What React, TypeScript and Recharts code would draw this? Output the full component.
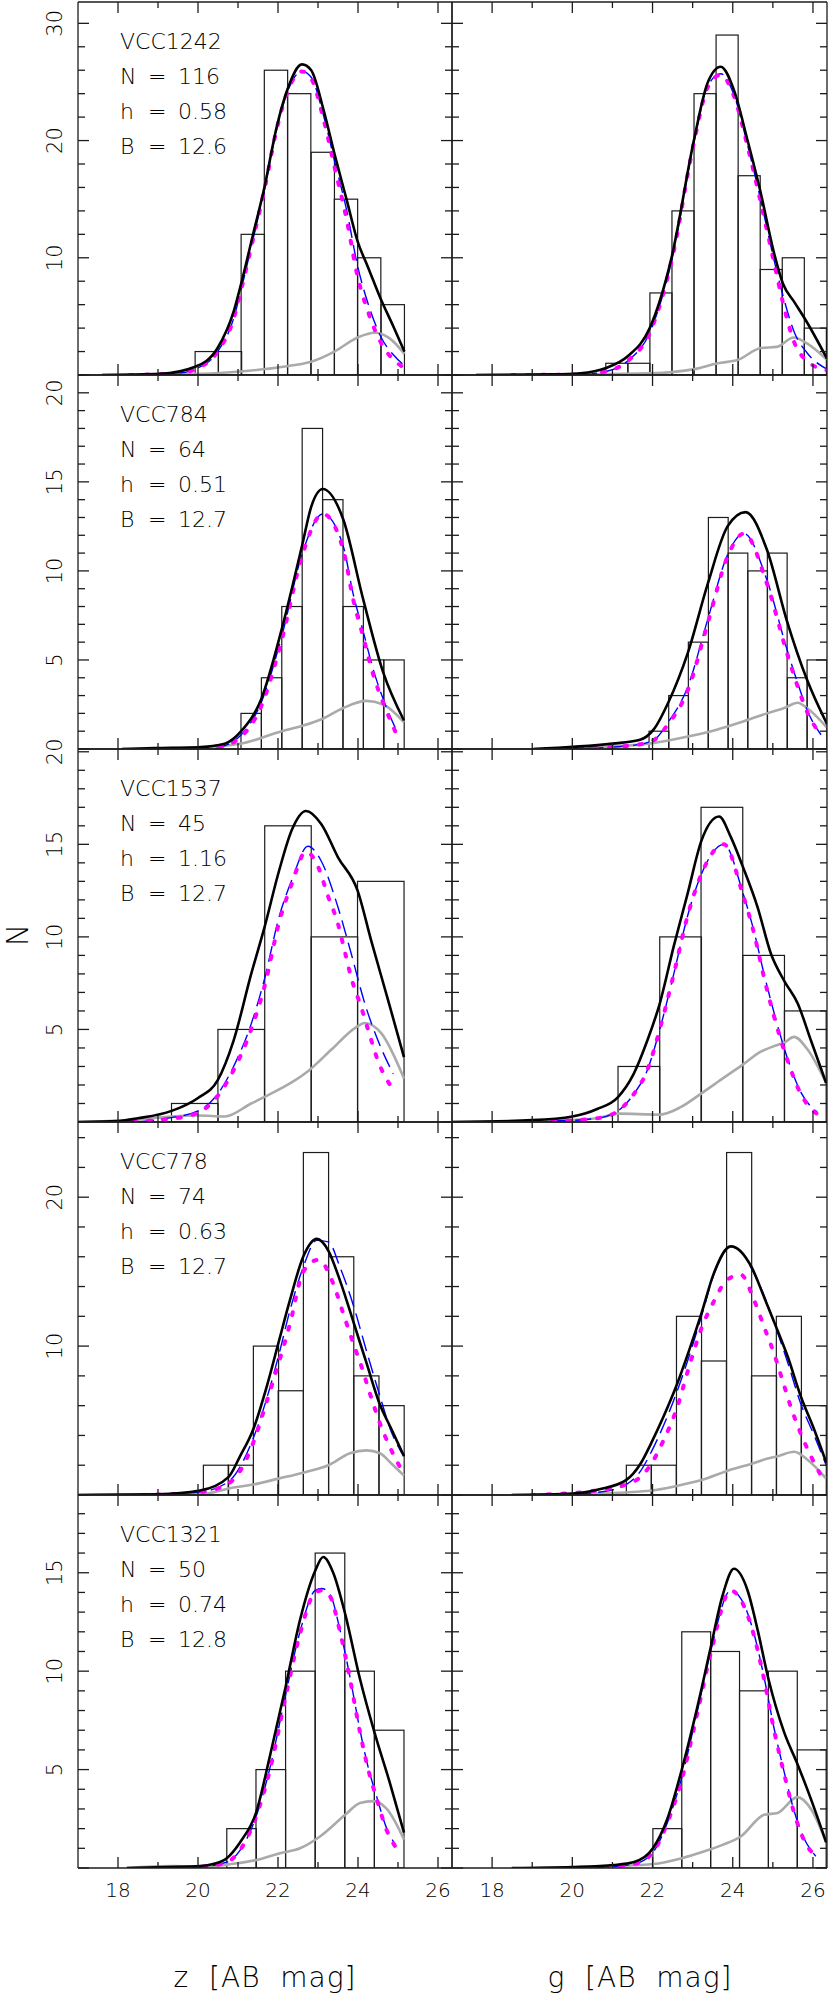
import React from 'react';
import { ComposedChart, XAxis, YAxis, Bar, Line } from 'recharts';

type Pt = [number, number];

const INK = '#1c1c1c';
const TEXT = '#000000';
const FONT = "'DejaVu Sans', 'Liberation Sans', sans-serif";

// text in the left panels
const galaxies = ['VCC1242', 'VCC784', 'VCC1537', 'VCC778', 'VCC1321'];
const nGc = ['116', '64', '45', '74', '50'];
const hBand = ['0.58', '0.51', '1.16', '0.63', '0.74'];
const bMag = ['12.6', '12.7', '12.7', '12.7', '12.8'];

// axes
const X_MIN = 17;
const X_MAX = 26.35;
const xTicks = [18, 19, 20, 21, 22, 23, 24, 25, 26];
const yMax = [31.82, 21.0, 20.15, 25.05, 18.95];
const yTicks = [
  [0, 2, 4, 6, 8, 10, 12, 14, 16, 18, 20, 22, 24, 26, 28, 30],
  [0, 1, 2, 3, 4, 5, 6, 7, 8, 9, 10, 11, 12, 13, 14, 15, 16, 17, 18, 19, 20, 21],
  [0, 1, 2, 3, 4, 5, 6, 7, 8, 9, 10, 11, 12, 13, 14, 15, 16, 17, 18, 19, 20],
  [0, 2, 4, 6, 8, 10, 12, 14, 16, 18, 20, 22, 24],
  [0, 1, 2, 3, 4, 5, 6, 7, 8, 9, 10, 11, 12, 13, 14, 15, 16, 17, 18],
];
const yMajorStep = [10, 5, 5, 10, 5];
const yLabels = [[10, 20, 30], [5, 10, 15, 20], [5, 10, 15, 20], [10, 20], [5, 10, 15]];

// ---- VCC1242 ----
const z1242Centers = [20.22, 20.8, 21.37, 21.95, 22.53, 23.12, 23.7, 24.28, 24.87];
const z1242Counts = [2, 2, 12, 26, 24, 19, 15, 10, 6];
const z1242Kde: Pt[] = [[17.6, 0], [19.05, 0.1], [19.93, 0.7], [20.49, 2.3], [20.89, 5.4], [21.08, 7.8], [21.37, 11.9], [21.66, 16.0], [21.97, 21.2], [22.24, 24.4], [22.6, 26.5], [22.83, 26.0], [23.14, 22.6], [23.41, 18.9], [23.72, 14.9], [23.99, 11.4], [24.25, 9.2], [24.58, 6.4], [24.89, 4.1], [25.16, 2.0]];
const z1242Fit: Pt[] = [[18.3, 0], [19.5, 0.15], [19.93, 0.5], [20.49, 2.0], [20.89, 4.8], [21.08, 7.3], [21.37, 11.5], [21.66, 15.8], [21.97, 21.0], [22.24, 24.2], [22.6, 25.9], [22.83, 25.3], [23.14, 21.8], [23.41, 17.8], [23.72, 13.2], [23.99, 8.4], [24.26, 5.3], [24.58, 2.7], [24.89, 1.3], [25.16, 0.6]];
const z1242Gauss: Pt[] = [[18.3, 0], [19.5, 0.15], [19.93, 0.5], [20.49, 2.0], [20.89, 4.8], [21.08, 7.3], [21.37, 11.5], [21.66, 15.8], [21.97, 21.0], [22.24, 24.2], [22.6, 25.9], [22.83, 25.4], [23.14, 22.1], [23.41, 18.3], [23.72, 14.0], [23.99, 9.3], [24.26, 6.0], [24.58, 3.2], [24.89, 1.7], [25.16, 0.8]];
const z1242Bg: Pt[] = [[17.6, 0], [19.5, 0.05], [21.07, 0.3], [22.22, 0.75], [22.8, 1.1], [23.41, 2.0], [23.99, 3.2], [24.42, 3.6], [24.8, 3.1], [25.16, 1.8]];

const g1242Centers = [21.11, 21.66, 22.21, 22.76, 23.31, 23.86, 24.41, 24.96, 25.51, 26.06];
const g1242Counts = [1, 1, 7, 14, 24, 29, 17, 9, 10, 4];
const g1242Kde: Pt[] = [[17.6, 0], [19.5, 0.05], [20.2, 0.15], [20.84, 0.6], [21.38, 1.6], [21.93, 4.0], [22.48, 10.1], [23.03, 20.0], [23.37, 24.9], [23.7, 26.3], [24.03, 24.3], [24.37, 20.0], [24.68, 15.8], [25.03, 10.4], [25.25, 7.8], [25.54, 6.2], [25.85, 4.5], [26.35, 1.4]];
const g1242Fit: Pt[] = [[18.5, 0], [20.2, 0.05], [20.84, 0.3], [21.38, 1.2], [21.93, 3.6], [22.48, 9.8], [23.03, 19.8], [23.37, 24.5], [23.7, 25.6], [24.03, 23.8], [24.37, 19.5], [24.68, 15.0], [25.03, 9.6], [25.25, 6.2], [25.52, 2.9], [25.85, 1.2], [26.35, 0.4]];
const g1242Gauss: Pt[] = [[18.5, 0], [20.2, 0.05], [20.84, 0.3], [21.38, 1.2], [21.93, 3.6], [22.48, 9.8], [23.03, 19.8], [23.37, 24.6], [23.7, 25.7], [24.03, 23.9], [24.37, 19.6], [24.68, 15.2], [25.03, 9.8], [25.25, 6.8], [25.54, 3.6], [25.85, 1.9], [26.35, 0.5]];
const g1242Bg: Pt[] = [[17.6, 0], [21.95, 0.15], [23.05, 0.5], [23.63, 1.0], [24.13, 1.3], [24.7, 2.3], [25.1, 2.4], [25.52, 3.2], [25.85, 2.7], [26.35, 1.3]];

// ---- VCC784 ----
const z784Centers = [21.33, 21.84, 22.35, 22.86, 23.37, 23.88, 24.39, 24.9];
const z784Counts = [2, 4, 8, 18, 14, 8, 5, 5];
const z784Kde: Pt[] = [[18.1, 0], [18.92, 0.05], [20.0, 0.1], [20.67, 0.3], [21.08, 1.0], [21.58, 2.8], [22.09, 6.7], [22.61, 11.5], [22.83, 13.6], [23.12, 14.6], [23.63, 12.9], [24.13, 8.4], [24.63, 4.3], [25.15, 1.6]];
const z784Fit: Pt[] = [[19.4, 0], [20.5, 0.1], [21.08, 0.7], [21.58, 2.4], [22.09, 6.1], [22.61, 10.9], [23.12, 13.2], [23.63, 11.2], [23.88, 8.4], [24.13, 6.3], [24.39, 4.1], [24.63, 2.6], [24.93, 1.0]];
const z784Gauss: Pt[] = [[20.4, 0], [21.08, 0.8], [21.58, 2.6], [22.09, 6.3], [22.61, 11.0], [23.12, 13.2], [23.63, 11.4], [23.88, 8.7], [24.13, 6.6], [24.39, 4.4], [24.63, 2.8], [24.93, 1.2]];
const z784Bg: Pt[] = [[18.1, 0], [20.0, 0.1], [21.07, 0.3], [22.09, 1.0], [22.61, 1.3], [23.12, 1.7], [23.63, 2.3], [24.2, 2.7], [24.63, 2.5], [25.15, 1.5]];

const g784Centers = [22.16, 22.65, 23.14, 23.64, 24.13, 24.62, 25.11, 25.61, 26.1];
const g784Counts = [1, 3, 6, 13, 11, 10, 11, 4, 5];
const g784Kde: Pt[] = [[19.03, 0], [21.0, 0.3], [21.67, 0.5], [22.03, 1.1], [22.39, 2.6], [22.88, 5.4], [23.38, 9.3], [23.87, 12.5], [24.32, 13.3], [24.85, 11.2], [25.35, 7.2], [25.85, 3.9], [26.35, 1.4]];
const g784Fit: Pt[] = [[19.8, 0], [21.5, 0.2], [22.03, 0.5], [22.39, 1.4], [22.88, 3.3], [23.38, 7.1], [23.87, 10.8], [24.28, 12.1], [24.85, 9.3], [25.35, 5.4], [25.62, 3.5], [25.87, 2.0], [26.2, 0.8]];
const g784Gauss: Pt[] = [[19.8, 0], [21.5, 0.2], [22.03, 0.5], [22.39, 1.5], [22.88, 3.5], [23.38, 7.3], [23.87, 10.9], [24.28, 12.1], [24.85, 9.5], [25.35, 5.6], [25.62, 3.7], [25.87, 2.1], [26.2, 0.8]];
const g784Bg: Pt[] = [[19.03, 0], [21.0, 0.15], [21.91, 0.3], [22.88, 0.7], [23.62, 1.1], [24.2, 1.5], [24.85, 2.0], [25.28, 2.3], [25.62, 2.6], [25.85, 2.3], [26.35, 1.2]];

// ---- VCC1537 ----
const z1537Centers = [19.92, 21.08, 22.25, 23.41, 24.57];
const z1537Counts = [1, 5, 16, 10, 13];
const z1537Kde: Pt[] = [[17.0, 0], [18.0, 0.05], [18.5, 0.2], [19.34, 0.6], [20.0, 1.3], [20.49, 2.25], [20.89, 4.4], [21.33, 8.0], [21.66, 10.5], [22.03, 13.6], [22.35, 15.8], [22.7, 16.8], [23.08, 16.1], [23.5, 14.3], [23.99, 12.5], [24.33, 9.8], [24.75, 6.6], [25.15, 3.5]];
const z1537Fit: Pt[] = [[18.0, 0], [19.22, 0.15], [20.0, 0.5], [20.49, 1.4], [20.89, 2.8], [21.33, 5.0], [21.66, 7.3], [22.03, 10.8], [22.35, 12.9], [22.7, 14.6], [23.0, 13.8], [23.25, 12.2], [23.5, 10.7], [23.66, 9.3], [23.83, 7.8], [24.08, 6.2], [24.25, 5.0], [24.5, 3.3], [24.83, 1.9]];
const z1537Gauss: Pt[] = [[18.5, 0], [19.22, 0.2], [20.0, 0.6], [20.49, 1.5], [20.89, 3.0], [21.33, 5.3], [21.66, 7.7], [22.03, 11.1], [22.35, 13.1], [22.75, 14.9], [23.08, 14.1], [23.5, 11.6], [23.83, 9.1], [24.17, 6.4], [24.5, 4.4], [24.88, 2.6]];
const z1537Bg: Pt[] = [[17.0, 0], [18.3, 0.1], [19.34, 0.3], [20.0, 0.35], [20.67, 0.3], [21.33, 1.0], [21.75, 1.45], [22.35, 2.15], [22.78, 2.8], [23.33, 3.9], [23.94, 5.1], [24.17, 5.35], [24.58, 4.8], [25.15, 2.35]];

const g1537Centers = [21.66, 22.7, 23.73, 24.77, 25.81];
const g1537Counts = [3, 10, 17, 9, 6];
const g1537Kde: Pt[] = [[17.0, 0], [19.0, 0.1], [20.0, 0.3], [20.62, 0.7], [21.14, 1.35], [21.53, 2.6], [21.87, 4.4], [22.18, 6.4], [22.53, 9.5], [22.87, 12.3], [23.22, 15.2], [23.66, 16.5], [23.95, 15.4], [24.25, 13.8], [24.62, 11.6], [24.95, 9.1], [25.29, 7.6], [25.62, 6.4], [25.95, 4.4], [26.33, 2.1]];
const g1537Fit: Pt[] = [[19.5, 0.05], [20.62, 0.2], [21.14, 0.6], [21.53, 1.5], [21.87, 2.8], [22.18, 5.0], [22.53, 8.0], [22.87, 11.1], [23.22, 13.4], [23.78, 15.0], [24.25, 12.3], [24.53, 10.2], [24.78, 7.8], [25.03, 5.7], [25.37, 3.3], [25.7, 1.5], [26.12, 0.4]];
const g1537Gauss: Pt[] = [[19.5, 0.05], [20.62, 0.2], [21.14, 0.6], [21.53, 1.5], [21.87, 2.8], [22.18, 5.0], [22.53, 8.0], [22.87, 11.1], [23.22, 13.4], [23.78, 15.0], [24.25, 12.4], [24.53, 10.3], [24.78, 8.0], [25.03, 5.9], [25.37, 3.4], [25.7, 1.6], [26.12, 0.5]];
const g1537Bg: Pt[] = [[17.0, 0], [19.2, 0.05], [20.62, 0.2], [21.14, 0.45], [22.18, 0.4], [22.7, 0.8], [23.22, 1.55], [23.78, 2.4], [24.25, 3.1], [24.7, 3.8], [25.03, 4.1], [25.29, 4.3], [25.53, 4.6], [25.87, 3.9], [26.33, 2.1]];

// ---- VCC778 ----
const z778Centers = [20.45, 21.07, 21.7, 22.32, 22.95, 23.58, 24.21, 24.84];
const z778Counts = [2, 2, 10, 7, 23, 16, 8, 6];
const z778Kde: Pt[] = [[17.0, 0], [19.0, 0.05], [20.05, 0.3], [20.76, 1.2], [21.05, 2.6], [21.38, 4.4], [21.72, 7.3], [22.01, 10.2], [22.3, 13.1], [22.63, 16.0], [22.97, 17.2], [23.26, 16.4], [23.55, 14.4], [23.9, 11.5], [24.22, 8.8], [24.53, 6.2], [24.84, 4.4], [25.15, 2.6]];
const z778Fit: Pt[] = [[18.6, 0], [20.05, 0.2], [20.72, 0.7], [21.05, 1.6], [21.38, 3.5], [21.72, 6.3], [22.01, 8.8], [22.3, 11.5], [22.63, 15.0], [23.01, 15.8], [23.38, 14.2], [23.63, 12.2], [23.88, 10.2], [24.09, 8.6], [24.3, 6.8], [24.55, 4.8], [24.8, 3.2], [25.13, 1.5]];
const z778Gauss: Pt[] = [[18.6, 0], [20.05, 0.2], [20.76, 0.9], [21.38, 3.8], [21.72, 6.5], [22.01, 9.3], [22.3, 12.4], [22.63, 15.3], [22.97, 17.1], [23.26, 17.0], [23.55, 15.3], [23.9, 12.6], [24.22, 9.6], [24.53, 6.8], [24.84, 4.2], [25.1, 2.8]];
const z778Bg: Pt[] = [[17.0, 0], [20.05, 0.05], [20.89, 0.5], [21.38, 0.7], [22.01, 1.1], [22.63, 1.5], [23.26, 2.0], [23.8, 2.8], [24.22, 3.0], [24.55, 2.8], [24.84, 2.1], [25.15, 1.3]];

const g778Centers = [21.66, 22.28, 22.91, 23.53, 24.16, 24.78, 25.4, 26.02];
const g778Counts = [2, 2, 12, 9, 23, 8, 12, 6];
const g778Kde: Pt[] = [[18.49, 0], [20.0, 0.1], [20.7, 0.4], [21.34, 1.0], [21.7, 2.1], [21.97, 3.5], [22.28, 5.3], [22.59, 7.3], [22.91, 9.7], [23.22, 12.2], [23.53, 14.9], [23.95, 16.7], [24.47, 15.3], [24.78, 13.3], [25.08, 11.3], [25.37, 9.3], [25.7, 6.6], [26.03, 4.4], [26.33, 2.2]];
const g778Fit: Pt[] = [[19.0, 0], [20.6, 0.3], [21.53, 0.9], [21.97, 2.1], [22.28, 3.7], [22.59, 5.7], [22.91, 8.6], [23.22, 11.2], [23.53, 13.0], [23.84, 14.4], [24.2, 14.8], [24.53, 13.1], [24.78, 11.3], [25.03, 9.5], [25.24, 7.7], [25.45, 5.9], [25.7, 4.1], [25.95, 2.6], [26.2, 1.3]];
const g778Gauss: Pt[] = [[19.5, 0], [20.7, 0.2], [21.34, 0.7], [21.7, 1.6], [21.97, 2.9], [22.28, 4.7], [22.59, 6.8], [22.91, 9.3], [23.22, 12.0], [23.53, 14.8], [23.95, 16.7], [24.2, 16.4], [24.47, 15.2], [24.78, 13.4], [25.08, 11.2], [25.37, 8.9], [25.7, 6.1], [26.03, 4.0], [26.33, 2.0]];
const g778Bg: Pt[] = [[18.49, 0], [20.7, 0.1], [21.97, 0.3], [22.59, 0.6], [23.22, 1.0], [23.84, 1.6], [24.47, 2.1], [24.87, 2.45], [25.12, 2.6], [25.53, 2.9], [25.87, 2.35], [26.33, 1.1]];

// ---- VCC1321 ----
const z1321Centers = [21.09, 21.82, 22.56, 23.3, 24.04, 24.78];
const z1321Counts = [2, 5, 10, 16, 10, 7];
const z1321Kde: Pt[] = [[18.22, 0], [19.22, 0.05], [20.05, 0.1], [20.38, 0.2], [20.72, 0.5], [21.05, 1.3], [21.45, 2.8], [21.8, 5.7], [22.19, 9.2], [22.55, 12.6], [22.93, 15.1], [23.13, 15.8], [23.38, 15.0], [23.68, 12.9], [24.05, 9.6], [24.41, 6.9], [24.8, 4.3], [25.15, 1.8]];
const z1321Fit: Pt[] = [[19.38, 0], [20.05, 0.05], [20.72, 0.3], [21.05, 0.9], [21.45, 2.6], [21.8, 5.0], [22.19, 8.7], [22.55, 11.9], [22.93, 14.0], [23.09, 14.1], [23.3, 13.8], [23.55, 12.0], [23.8, 9.6], [24.05, 6.9], [24.22, 5.3], [24.47, 3.5], [24.72, 1.9], [24.93, 1.1]];
const z1321Gauss: Pt[] = [[19.8, 0], [20.72, 0.3], [21.05, 0.9], [21.45, 2.6], [21.8, 5.1], [22.19, 8.8], [22.55, 12.0], [22.93, 14.1], [23.09, 14.2], [23.3, 13.9], [23.55, 12.1], [23.8, 9.7], [24.05, 7.0], [24.22, 5.4], [24.47, 3.6], [24.72, 2.0], [24.93, 1.2]];
const z1321Bg: Pt[] = [[18.22, 0], [19.38, 0.1], [20.05, 0.05], [20.83, 0.2], [21.45, 0.4], [22.05, 0.75], [22.55, 1.0], [23.05, 1.6], [23.68, 2.7], [24.05, 3.3], [24.38, 3.4], [24.72, 3.0], [25.15, 1.45]];

const g1321Centers = [22.37, 23.09, 23.81, 24.53, 25.25, 25.97];
const g1321Counts = [2, 12, 11, 9, 10, 6];
const g1321Kde: Pt[] = [[18.49, 0], [20.0, 0.05], [21.04, 0.15], [21.54, 0.3], [22.01, 1.0], [22.37, 2.5], [22.73, 5.0], [23.12, 8.2], [23.45, 11.2], [23.74, 13.8], [24.03, 15.2], [24.37, 14.1], [24.62, 12.1], [24.89, 9.6], [25.28, 6.9], [25.61, 5.3], [25.95, 3.5], [26.33, 1.3]];
const g1321Fit: Pt[] = [[20.45, 0], [21.54, 0.2], [22.01, 0.8], [22.37, 2.3], [22.73, 4.5], [23.12, 7.9], [23.45, 10.9], [23.95, 14.1], [24.28, 13.3], [24.53, 11.8], [24.78, 9.6], [25.03, 7.0], [25.28, 4.8], [25.53, 2.8], [25.78, 1.4], [26.07, 0.6]];
const g1321Gauss: Pt[] = [[20.45, 0], [21.54, 0.2], [22.01, 0.8], [22.37, 2.3], [22.73, 4.6], [23.12, 8.0], [23.45, 11.0], [23.95, 14.1], [24.28, 13.4], [24.53, 11.9], [24.78, 9.7], [25.03, 7.1], [25.28, 4.9], [25.53, 2.9], [25.78, 1.5], [26.07, 0.6]];
const g1321Bg: Pt[] = [[19.12, 0], [21.04, 0.1], [22.01, 0.2], [22.73, 0.5], [23.37, 0.9], [23.78, 1.2], [24.2, 1.6], [24.78, 2.7], [25.12, 2.8], [25.61, 3.6], [25.95, 3.0], [26.33, 1.3]];

type PanelSpec = {
  row: number;
  col: number;
  centers: number[];
  counts: number[];
  binWidth: number;
  kde: Pt[];
  fit: Pt[];
  gauss: Pt[];
  bg: Pt[];
};

const panels: PanelSpec[] = [
  { row: 0, col: 0, centers: z1242Centers, counts: z1242Counts, binWidth: 0.583, kde: z1242Kde, fit: z1242Fit, gauss: z1242Gauss, bg: z1242Bg },
  { row: 0, col: 1, centers: g1242Centers, counts: g1242Counts, binWidth: 0.55, kde: g1242Kde, fit: g1242Fit, gauss: g1242Gauss, bg: g1242Bg },
  { row: 1, col: 0, centers: z784Centers, counts: z784Counts, binWidth: 0.51, kde: z784Kde, fit: z784Fit, gauss: z784Gauss, bg: z784Bg },
  { row: 1, col: 1, centers: g784Centers, counts: g784Counts, binWidth: 0.493, kde: g784Kde, fit: g784Fit, gauss: g784Gauss, bg: g784Bg },
  { row: 2, col: 0, centers: z1537Centers, counts: z1537Counts, binWidth: 1.163, kde: z1537Kde, fit: z1537Fit, gauss: z1537Gauss, bg: z1537Bg },
  { row: 2, col: 1, centers: g1537Centers, counts: g1537Counts, binWidth: 1.04, kde: g1537Kde, fit: g1537Fit, gauss: g1537Gauss, bg: g1537Bg },
  { row: 3, col: 0, centers: z778Centers, counts: z778Counts, binWidth: 0.63, kde: z778Kde, fit: z778Fit, gauss: z778Gauss, bg: z778Bg },
  { row: 3, col: 1, centers: g778Centers, counts: g778Counts, binWidth: 0.625, kde: g778Kde, fit: g778Fit, gauss: g778Gauss, bg: g778Bg },
  { row: 4, col: 0, centers: z1321Centers, counts: z1321Counts, binWidth: 0.74, kde: z1321Kde, fit: z1321Fit, gauss: z1321Gauss, bg: z1321Bg },
  { row: 4, col: 1, centers: g1321Centers, counts: g1321Counts, binWidth: 0.72, kde: g1321Kde, fit: g1321Fit, gauss: g1321Gauss, bg: g1321Bg },
];

// layout of the grid
const ROW_TOP = [2, 375, 749, 1122, 1495];
const ROW_BOTTOM = [375, 749, 1122, 1495, 1868];

const toRows = (pts: Pt[]) => pts.map(([x, y]) => ({ x, y }));

const xTick = (side: 'top' | 'bottom', labels: boolean) => (p: any) => {
  const v = p.payload.value;
  const major = v % 2 === 0;
  const len = major ? 11 : 6;
  const dir = side === 'bottom' ? -1 : 1;
  return (
    <g>
      <line x1={p.x} x2={p.x} y1={p.y} y2={p.y + dir * len} stroke={INK} strokeWidth={1.3} />
      {labels && major ? (
        <text x={p.x} y={p.y + 22} textAnchor="middle" dominantBaseline="central" fontSize={20} fontFamily={FONT} fontWeight={200} fill={TEXT}>
          {v}
        </text>
      ) : null}
    </g>
  );
};

const yTick = (side: 'left' | 'right', step: number, labels: number[]) => (p: any) => {
  const v = p.payload.value;
  const major = v % step === 0;
  const len = major ? 11 : 7;
  const dir = side === 'left' ? 1 : -1;
  const tx = p.x - 23;
  return (
    <g>
      <line x1={p.x} x2={p.x + dir * len} y1={p.y} y2={p.y} stroke={INK} strokeWidth={1.3} />
      {labels.includes(v) ? (
        <text x={tx} y={p.y} transform={`rotate(-90 ${tx} ${p.y})`} textAnchor="middle" dominantBaseline="central" fontSize={21} fontFamily={FONT} fontWeight={200} fill={TEXT}>
          {v}
        </text>
      ) : null}
    </g>
  );
};

function Panel({ p }: { p: PanelSpec }) {
  const top = ROW_TOP[p.row];
  const plotH = ROW_BOTTOM[p.row] - top;
  const last = p.row === 4;
  const left = p.col === 0;
  const width = left ? 462 : 388;
  const mL = left ? 78 : 10;
  const mR = left ? 10 : 3;
  const pxPerMag = (width - mL - mR) / (X_MAX - X_MIN);
  const extra = last ? 45 : 0;
  const bins = p.centers.map((x, i) => ({ x, n: p.counts[i] }));
  const axisLine = { stroke: INK, strokeWidth: 1.3 };

  const histShape = (s: any) => {
    const c = s.x + s.width / 2;
    const w = p.binWidth * pxPerMag;
    return <rect x={c - w / 2} y={s.y} width={w} height={s.height} fill="none" stroke={INK} strokeWidth={1.2} />;
  };

  // every axis takes 1px of room, so the margins give that pixel back
  return (
    <div style={{ position: 'absolute', left: left ? 0 : 442, top: top - 10 }}>
      <ComposedChart
        width={width}
        height={plotH + 20 + extra}
        data={bins}
        margin={{ top: 9, right: mR - 1, bottom: 9 + extra, left: mL - 1 }}
        barCategoryGap={0}
        barGap={0}
      >
        <XAxis dataKey="x" type="number" domain={[X_MIN, X_MAX]} allowDataOverflow ticks={xTicks} interval={0} height={1} tickSize={0} tickMargin={0} tickLine={false} axisLine={axisLine} tick={xTick('bottom', last)} />
        <XAxis xAxisId="top" orientation="top" dataKey="x" type="number" domain={[X_MIN, X_MAX]} allowDataOverflow ticks={xTicks} interval={0} height={1} tickSize={0} tickMargin={0} tickLine={false} axisLine={axisLine} tick={xTick('top', false)} />
        <YAxis type="number" domain={[0, yMax[p.row]]} allowDataOverflow ticks={yTicks[p.row]} interval={0} width={1} tickSize={0} tickMargin={0} tickLine={false} axisLine={axisLine} tick={yTick('left', yMajorStep[p.row], left ? yLabels[p.row] : [])} />
        <YAxis yAxisId="right" orientation="right" type="number" domain={[0, yMax[p.row]]} allowDataOverflow ticks={yTicks[p.row]} interval={0} width={1} tickSize={0} tickMargin={0} tickLine={false} axisLine={axisLine} tick={yTick('right', yMajorStep[p.row], [])} />
        <Bar dataKey="n" barSize={Math.round(p.binWidth * pxPerMag)} shape={histShape} isAnimationActive={false} />
        <Line data={toRows(p.bg)} dataKey="y" type="monotone" stroke="#aaaaaa" strokeWidth={2.6} dot={false} activeDot={false} isAnimationActive={false} />
        <Line data={toRows(p.gauss)} dataKey="y" type="monotone" stroke="#0000ff" strokeWidth={1.4} strokeDasharray="16 7" dot={false} activeDot={false} isAnimationActive={false} />
        <Line data={toRows(p.fit)} dataKey="y" type="monotone" stroke="#ff00ff" strokeWidth={4} strokeDasharray="3 12" strokeLinecap="round" dot={false} activeDot={false} isAnimationActive={false} />
        <Line data={toRows(p.kde)} dataKey="y" type="monotone" stroke="#000000" strokeWidth={2.6} dot={false} activeDot={false} isAnimationActive={false} />
      </ComposedChart>
    </div>
  );
}

const cell: React.CSSProperties = { display: 'inline-block' };

function Info({ row }: { row: number }) {
  const lines: [string, string][] = [
    ['N', nGc[row]],
    ['h', hBand[row]],
    ['B', bMag[row]],
  ];
  return (
    <div style={{ position: 'absolute', left: 120, top: ROW_TOP[row] + 22, fontFamily: FONT, fontWeight: 200, fontSize: 22, lineHeight: '35px', color: TEXT, whiteSpace: 'pre' }}>
      <div>{galaxies[row]}</div>
      {lines.map(([k, v]) => (
        <div key={k}>
          <span style={{ ...cell, width: 28 }}>{k}</span>
          <span style={{ ...cell, width: 30 }}>=</span>
          <span style={cell}>{v}</span>
        </div>
      ))}
    </div>
  );
}

export default function App() {
  return (
    <div style={{ position: 'absolute', left: 0, top: 0, width: 830, height: 1997, background: '#fff', overflow: 'hidden' }}>
      {panels.map((p) => (
        <Panel key={`${p.row}-${p.col}`} p={p} />
      ))}
      {galaxies.map((g, i) => (
        <Info key={g} row={i} />
      ))}
      <svg style={{ position: 'absolute', left: 0, top: 900 }} width={40} height={70}>
        <text x={17} y={35} transform="rotate(-90 17 35)" textAnchor="middle" dominantBaseline="central" fontSize={30} fontFamily={FONT} fontWeight={200} fill={TEXT}>
          N
        </text>
      </svg>
      <div style={{ position: 'absolute', left: 265, top: 1977, transform: 'translate(-50%, -50%)', fontFamily: FONT, fontWeight: 200, fontSize: 28, color: TEXT, whiteSpace: 'pre', letterSpacing: 1 }}>z  [AB  mag]</div>
      <div style={{ position: 'absolute', left: 640, top: 1977, transform: 'translate(-50%, -50%)', fontFamily: FONT, fontWeight: 200, fontSize: 28, color: TEXT, whiteSpace: 'pre', letterSpacing: 1 }}>g  [AB  mag]</div>
    </div>
  );
}
